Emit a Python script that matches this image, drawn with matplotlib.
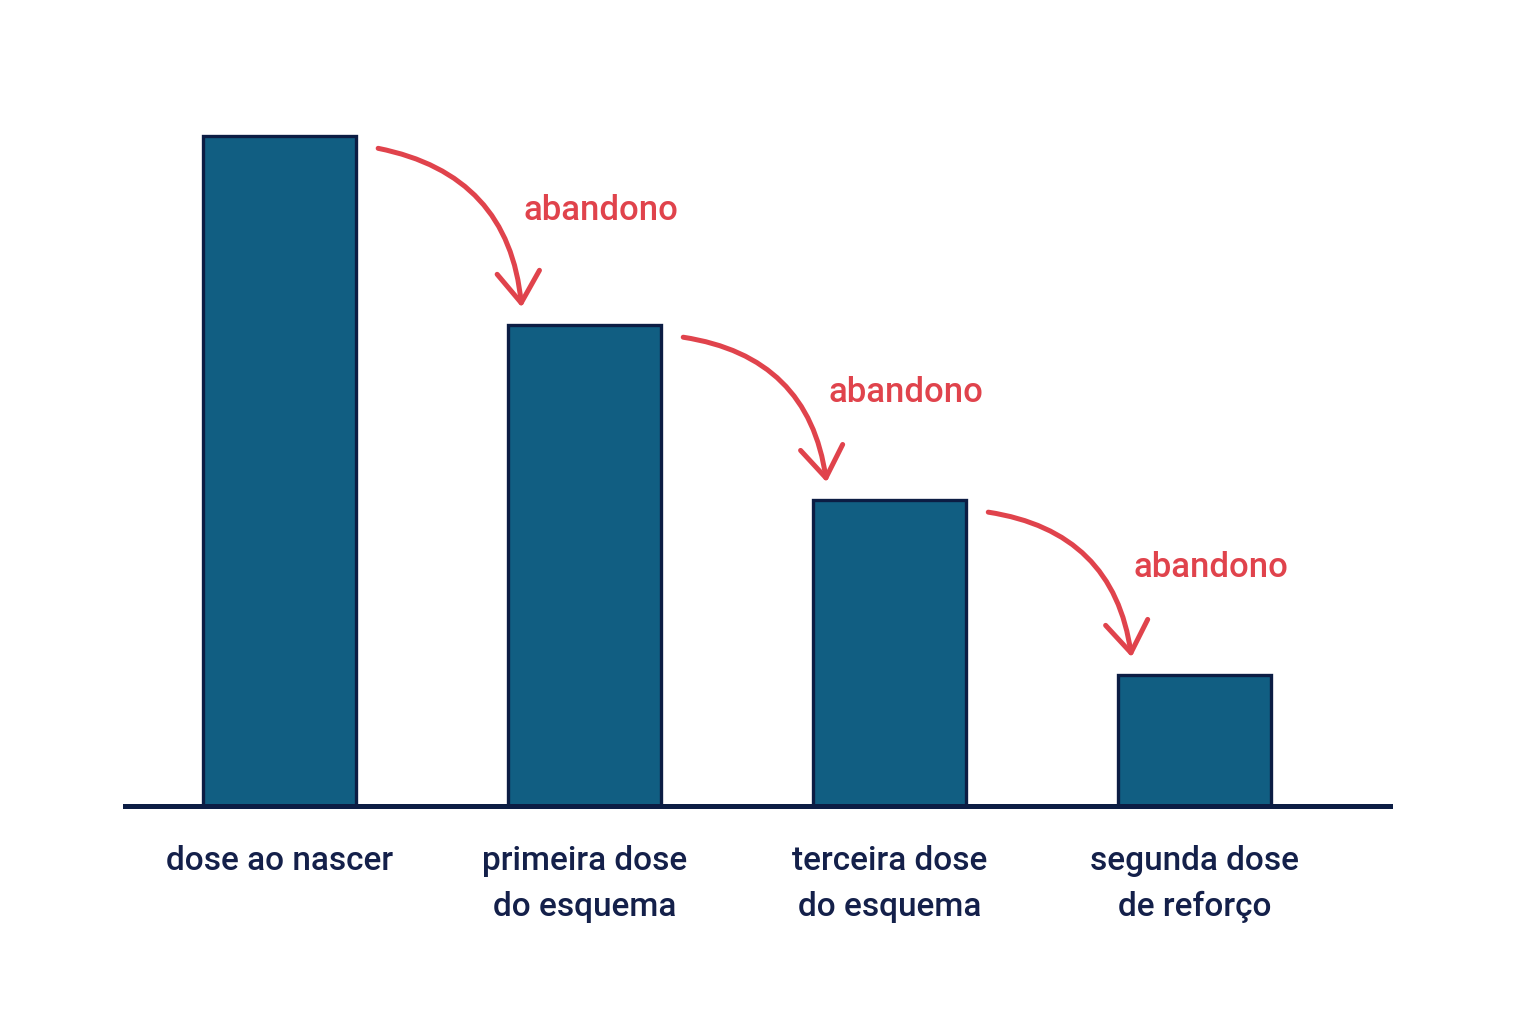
import numpy as np
import matplotlib
matplotlib.use("Agg")
import matplotlib.pyplot as plt
from matplotlib.patches import FancyArrowPatch

# data
categories = ["dose ao nascer", "primeira dose\ndo esquema",
              "terceira dose\ndo esquema", "segunda dose\nde reforço"]
values = [100, 71.8, 45.7, 19.6]
drop_label = "abandono"

bar_color = "#115e82"
edge_color = "#0c1d44"
red = "#e0434c"
text_color = "#14204a"

plt.rcParams['font.family'] = ['Roboto', 'DejaVu Sans']

fig = plt.figure(figsize=(15.36, 10.24), dpi=100)
ax = fig.add_axes([125 / 1536, 218 / 1024, 1265 / 1536, 746 / 1024])

x = np.arange(len(categories))
width = 0.5
ax.bar(x, values, width=width, color=bar_color, edgecolor=edge_color,
       linewidth=2.4, zorder=2)

ax.set_xlim(-0.506, 3.641)
ax.set_ylim(0, 111.3)

for s in ["top", "right", "left"]:
    ax.spines[s].set_visible(False)
ax.spines["bottom"].set_linewidth(3.6)
ax.spines["bottom"].set_color(edge_color)
ax.spines["bottom"].set_zorder(3)
ax.set_yticks([])
ax.set_xticks(x)
ax.set_xticklabels(categories, fontsize=24, color=text_color,
                   fontweight="medium", linespacing=1.55)
ax.tick_params(axis="x", length=0, pad=28)

# arrows between bars
for i in range(len(values) - 1):
    start = (x[i] + width / 2 + 0.065, values[i] - 1.8)
    end = (x[i + 1] - width / 2 + 0.045, values[i + 1] + 2.2)
    arrow = FancyArrowPatch(start, end,
                            connectionstyle="arc3,rad=-0.38",
                            arrowstyle="->,head_length=0.65,head_width=0.45",
                            mutation_scale=34, color=red, linewidth=3.6,
                            capstyle="round", joinstyle="round", zorder=4)
    ax.add_patch(arrow)
    mid = (values[i] + values[i + 1]) / 2 + 2.9
    ax.text(x[i] + 1.055, mid, drop_label, color=red, fontsize=25,
            fontweight="medium", ha="center", va="center")

fig.savefig("out.png", dpi=100, facecolor="white")
